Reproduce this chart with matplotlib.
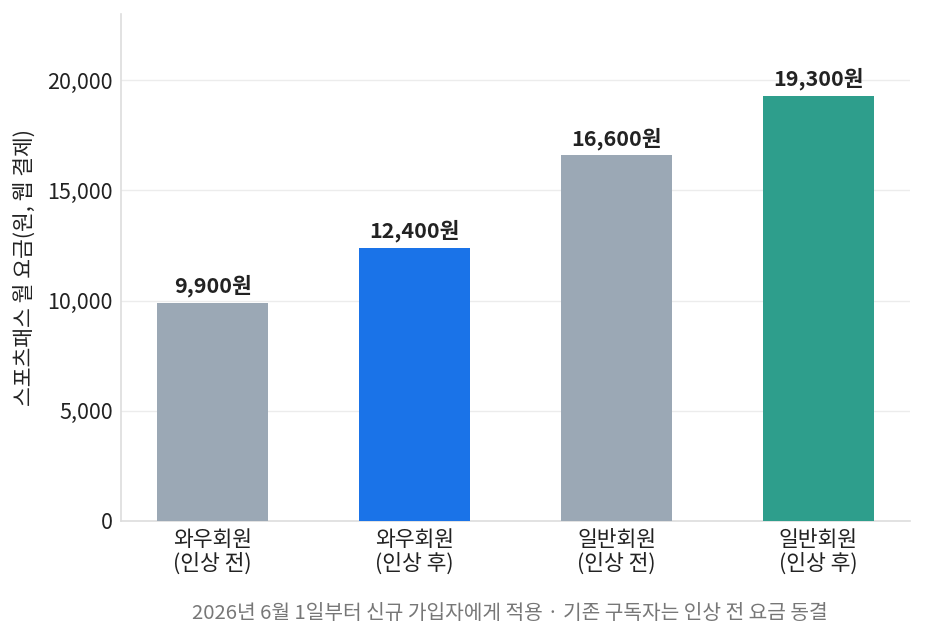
import matplotlib
matplotlib.use("Agg")
import matplotlib.pyplot as plt

plt.rcParams['font.family'] = ['Noto Sans CJK KR', 'DejaVu Sans']

categories = ["와우회원\n(인상 전)", "와우회원\n(인상 후)", "일반회원\n(인상 전)", "일반회원\n(인상 후)"]
values = [9900, 12400, 16600, 19300]
value_labels = ["9,900원", "12,400원", "16,600원", "19,300원"]
colors = ["#9ba8b5", "#1a73e8", "#9ba8b5", "#2e9e8c"]
yticks = [0, 5000, 10000, 15000, 20000]
ytick_labels = ["0", "5,000", "10,000", "15,000", "20,000"]

fig = plt.figure(figsize=(9.26, 6.42), dpi=100)
ax = fig.add_axes([0.1307, 0.1885, 0.852, 0.7895])

x = list(range(len(categories)))
ax.bar(x, values, width=0.55, color=colors, zorder=3)
for xi, v, lab in zip(x, values, value_labels):
    ax.annotate(lab, (xi, v), xytext=(0, 4), textcoords="offset points",
                ha="center", va="bottom", fontsize=15.5, fontweight="bold", color="#222222")

ax.set_xlim(-0.453, 3.453)
ax.set_ylim(0, 23000)
ax.set_xticks(x)
ax.set_xticklabels(categories, fontsize=15.5, color="#222222", linespacing=1.1)
ax.set_yticks(yticks)
ax.set_yticklabels(ytick_labels, fontsize=15.5, color="#222222")
ax.tick_params(length=0, pad=6)
ax.grid(axis="y", color="#ececec", linewidth=1, zorder=0)
for s in ["top", "right"]:
    ax.spines[s].set_visible(False)
for s in ["left", "bottom"]:
    ax.spines[s].set_color("#dddddd")
    ax.spines[s].set_linewidth(1.2)
ax.set_ylabel("스포츠패스 월 요금(원, 웹 결제)", fontsize=15.5, color="#222222", labelpad=8)

ax.text(0.4925, -0.183, "2026년 6월 1일부터 신규 가입자에게 적용 · 기존 구독자는 인상 전 요금 동결",
        transform=ax.transAxes, ha="center", va="center", fontsize=14.6, color="#777777")

fig.savefig("out.png", dpi=100)
